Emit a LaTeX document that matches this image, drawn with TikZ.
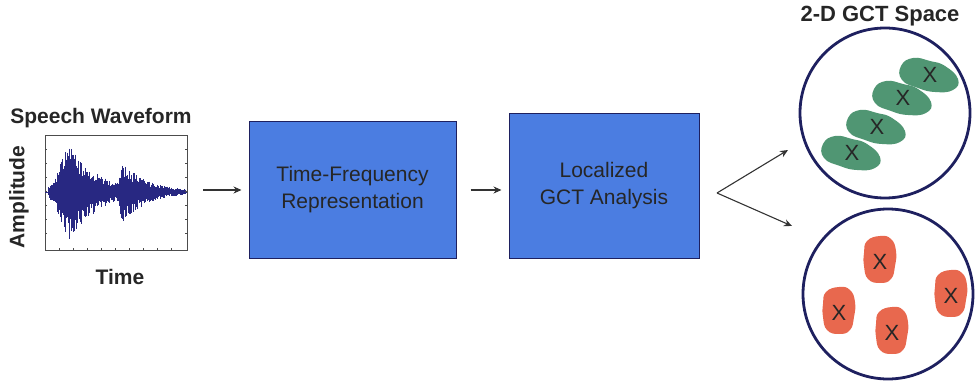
\documentclass[tikz,border=0pt]{standalone}
\usepackage{fontspec}
\setmainfont{Liberation Sans}
\usepackage{tikz}
\usetikzlibrary{calc, positioning, arrows.meta}

\definecolor{boxblue}{RGB}{75,125,225}
\definecolor{navy}{RGB}{30,32,95}
\definecolor{wavecol}{RGB}{40,40,130}
\definecolor{blobgreen}{RGB}{80,150,115}
\definecolor{blobred}{RGB}{232,104,78}

\tikzset{
  stage/.style={draw=navy, line width=1pt, fill=boxblue, align=center,
    font=\fontsize{21}{27}\selectfont, text=black!85},
  space/.style={circle, draw=navy, line width=2.8pt, minimum size=170pt, inner sep=0pt},
  lbl/.style={font=\bfseries\fontsize{21}{24}\selectfont, text=black!85},
  cross/.style={font=\fontsize{22}{22}\selectfont, inner sep=0pt, text=black!85},
  link/.style={-{Stealth[length=8pt, width=7pt]}, line width=1.1pt, draw=black!80},
  gblob/.pic={
    \fill[blobgreen] plot[smooth cycle, tension=0.8] coordinates
      {(-29,-9) (-17,-17) (0,-14) (15,-9) (28,4) (23,15) (5,17) (-12,13) (-28,5)};
    \node[cross] (-x) {X};
  },
  rblob/.pic={
    \fill[blobred] plot[smooth cycle, tension=0.8] coordinates
      {(-13,-21) (0,-26) (11,-23) (16,-11) (15,4) (11,17) (0,21) (-12,17) (-16,4) (-16,-9)};
    \node[cross] (-x) {X};
  },
}

\begin{document}
\begin{tikzpicture}[x=1pt, y=-1pt]
    \useasboundingbox (0,0) rectangle (977,385);
    % Dang song tieng noi
    \node[lbl] (title) at (101,118) {Speech Waveform};
    \node[draw=black!70, line width=0.6pt, minimum width=142pt, minimum height=115pt, inner sep=0pt] (plot) at (116,192.5) {};
    \begin{scope}
        \clip (45,135) rectangle (187,250);
        \pgfmathsetseed{7}
        \draw[wavecol, line width=0.6pt] (45,192) -- (187,192);
        \foreach \x in {48,48.8,...,186}{
            \pgfmathsetmacro\env{ifthenelse(\x<68, 5+45*((\x-48)/20)^1.3, ifthenelse(\x<117, 50*exp(-(\x-68)/30), ifthenelse(\x<121, 5+27*(\x-117)/4, 32*exp(-(\x-121)/26))))}
            \pgfmathsetmacro\up{\env*(0.5+0.5*rnd)}
            \pgfmathsetmacro\dn{\env*(0.5+0.5*rnd)}
            \draw[wavecol, line width=0.6pt] (\x,192-\up) -- (\x,192+\dn);
        }
    \end{scope}
    % Vach chia tren truc
    \foreach \t in {149,163,...,240} \draw[black!70, line width=0.4pt] (45,\t) -- (47,\t) (187,\t) -- (185,\t);
    \foreach \t in {59,73,...,180} \draw[black!70, line width=0.4pt] (\t,250) -- (\t,248);
    \node[lbl, rotate=90] (amp) at (19,197) {Amplitude};
    \node[lbl] (time) at (120,277) {Time};

    % Cac khoi xu ly
    \node[stage, minimum width=207pt, minimum height=136pt] (tf) at (352.5,190) {Time-Frequency\\Representation};
    \node[stage, minimum width=190pt, minimum height=144pt] (gct) at (604,186) {Localized\\GCT Analysis};

    \draw[link, shorten <=16pt, shorten >=7pt] (plot.east |- tf.west) -- (tf.west);
    \draw[link, shorten <=14pt, shorten >=7pt] (tf.east) -- (tf.east -| gct.west);

    % Khong gian GCT 2 chieu
    \node[lbl, font=\bfseries\fontsize{22}{24}\selectfont] (spacelbl) at (880,16) {2-D GCT Space};
    \node[space] (top) at (885,113) {};
    \node[space] (bot) at (888,294) {};

    \coordinate (fork) at (717,193);
    \coordinate (toTop) at (788,150);
    \coordinate (toBot) at (792,226);
    \draw[link] (fork) -- (toTop);
    \draw[link] (fork) -- (toBot);

    \pic (g1) at (852,153) {gblob};
    \pic (g2) at (877,127) {gblob};
    \pic (g3) at (903,98) {gblob};
    \pic (g4) at (930,75) {gblob};

    \pic (r1) at (880,262) {rblob};
    \pic (r2) at (839,313) {rblob};
    \pic (r3) at (892,333) {rblob};
    \pic (r4) at (951,296) {rblob};
\end{tikzpicture}
\end{document}
